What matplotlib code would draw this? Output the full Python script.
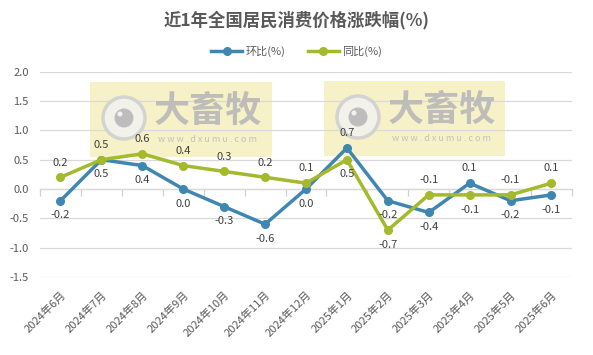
import matplotlib
matplotlib.use("Agg")
import matplotlib.pyplot as plt
from matplotlib.patches import Rectangle, Circle

plt.rcParams['font.family'] = ['Noto Sans CJK SC', 'DejaVu Sans']

months = ["2024年6月", "2024年7月", "2024年8月", "2024年9月", "2024年10月", "2024年11月",
          "2024年12月", "2025年1月", "2025年2月", "2025年3月", "2025年4月", "2025年5月", "2025年6月"]
mom = [-0.2, 0.5, 0.4, 0.0, -0.3, -0.6, 0.0, 0.7, -0.2, -0.4, 0.1, -0.2, -0.1]
yoy = [0.2, 0.5, 0.6, 0.4, 0.3, 0.2, 0.1, 0.5, -0.7, -0.1, -0.1, -0.1, 0.1]
# label placement as in the source chart: 1 = above point, -1 = below point
mom_pos = [-1, -1, -1, -1, -1, -1, -1, 1, -1, -1, 1, -1, -1]
yoy_pos = [1, 1, 1, 1, 1, 1, 1, -1, -1, 1, -1, 1, 1]
yticks = [-1.5, -1.0, -0.5, 0.0, 0.5, 1.0, 1.5, 2.0]

blue = '#3F87B1'
green = '#A4B92B'
txt = '#595959'

fig = plt.figure(figsize=(5.93, 3.55), dpi=100)
ax = fig.add_axes([0.0675, 0.2197, 0.897, 0.5783])
ax.set_facecolor('none')

x = list(range(len(months)))
ax.plot(x, mom, color=blue, lw=2.5, marker='o', ms=5.5, zorder=4, label='环比(%)')
ax.plot(x, yoy, color=green, lw=2.5, marker='o', ms=5.5, zorder=4, label='同比(%)')

def labels(vals, pos):
    for i, (v, p) in enumerate(zip(vals, pos)):
        ax.annotate(f"{v:.1f}", (i, v), xytext=(0, 7 * p), textcoords='offset points',
                    ha='center', va='bottom' if p > 0 else 'top', fontsize=8,
                    color='#404040', zorder=5)

labels(mom, mom_pos)
labels(yoy, yoy_pos)

ax.set_xlim(-0.5, len(months) - 0.5)
ax.set_ylim(yticks[0], yticks[-1])
ax.set_yticks(yticks)
ax.set_yticklabels([f"{v:.1f}" for v in yticks], fontsize=8, color=txt)
ax.set_xticks(x)
ax.set_xticklabels(months, rotation=45, ha='right', rotation_mode='anchor', fontsize=8, color=txt)
ax.tick_params(axis='both', length=0)
ax.tick_params(axis='y', pad=8)
ax.tick_params(axis='x', pad=9)
ax.grid(axis='y', color='#D9D9D9', lw=0.9, zorder=0)
for s in ax.spines.values():
    s.set_visible(False)

# category axis at zero
zero_frac = (0 - yticks[0]) / (yticks[-1] - yticks[0])
sec = ax.secondary_xaxis(zero_frac)
sec.set_xticks([i - 0.5 for i in range(len(months) + 1)])
sec.set_xticklabels([])
sec.tick_params(axis='x', length=5, color='#D0D0D0', width=0.9, direction='out')
sec.spines['bottom'].set_color('#D0D0D0')
sec.spines['bottom'].set_linewidth(0.9)

# watermarks
W, H = 593, 355
def watermark(x0, y0, w, h):
    ax.add_patch(Rectangle((x0 / W, 1 - (y0 + h) / H), w / W, h / H, transform=fig.transFigure,
                           facecolor='#F3EAAA', alpha=0.65, edgecolor='none', zorder=1))
    cx, cy = x0 + 34, H - (y0 + 36)
    ax.add_patch(Circle((cx, cy), 21, transform=None, facecolor='#F2F2EE',
                        edgecolor='#D0D0D0', lw=2.5, alpha=0.9, zorder=2))
    ax.add_patch(Circle((cx, cy), 9.5, transform=None, facecolor='#BBBBBB',
                        edgecolor='none', alpha=0.95, zorder=2))
    ax.add_patch(Circle((cx - 4, cy + 4), 2.5, transform=None, facecolor='#F2F2F2',
                        edgecolor='none', zorder=2))
    fig.text((x0 + 118) / W, 1 - (y0 + 29) / H, "大畜牧", fontsize=26, fontweight='bold',
             color='#B8B8B8', ha='center', va='center', alpha=0.9, zorder=2)
    fig.text((x0 + 118) / W, 1 - (y0 + 58) / H, "w w w . d x u m u . c o m", fontsize=6.5,
             color='#BDBDBD', ha='center', va='center', alpha=0.9, zorder=2)

watermark(90, 82, 182, 75)
watermark(324, 81, 181, 75)

fig.text(0.5, 1 - 20 / H, "近1年全国居民消费价格涨跌幅(%)", fontsize=12.5, fontweight='bold',
         color=txt, ha='center', va='center')
leg = fig.legend(loc='center', bbox_to_anchor=(0.5, 1 - 51 / H), ncol=2, frameon=False,
                 fontsize=8, handlelength=2.8, columnspacing=2.0, handletextpad=0.3)
for t in leg.get_texts():
    t.set_color(txt)

fig.savefig("out.png", dpi=100)
